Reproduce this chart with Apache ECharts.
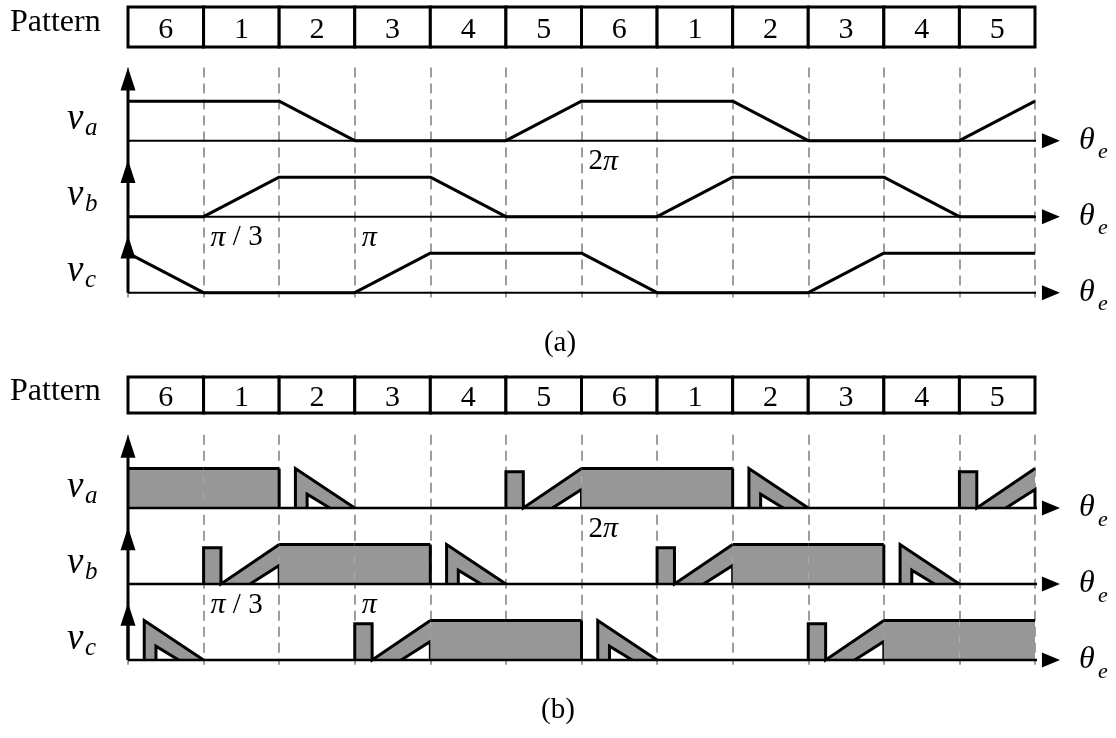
<!DOCTYPE html>
<html>
<head>
<meta charset="utf-8">
<script src="https://cdn.jsdelivr.net/npm/echarts@6/dist/echarts.min.js"></script>
<style>
  html, body { margin: 0; padding: 0; background: #fff; }
  #chart { width: 1116px; height: 738px; }
</style>
</head>
<body>
<div id="chart"></div>
<script>
// Commutation pattern sequence over two electrical cycles (each cell = pi/3)
const patterns = ['6', '1', '2', '3', '4', '5', '6', '1', '2', '3', '4', '5'];

// Trapezoidal back-EMF of each phase: breakpoints [theta_e in pi/3 units, normalized level]
const vaTrap = [[0, 1], [2, 1], [3, 0], [5, 0], [6, 1], [8, 1], [9, 0], [11, 0], [12, 1]];
const vbTrap = [[0, 0], [1, 0], [2, 1], [4, 1], [5, 0], [7, 0], [8, 1], [10, 1], [11, 0], [12, 0]];
const vcTrap = [[0, 1], [1, 0], [3, 0], [4, 1], [6, 1], [7, 0], [9, 0], [10, 1], [12, 1]];
const phaseSubs = ['a', 'b', 'c'];

// Angle annotations: [theta_e, phase index]
const angleMarkX = [6, 1, 3];
const angleMarkPhase = [0, 1, 1];
const angleMarkText = ['2π', 'π / 3', 'π'];

// PWM pulse shape inside one pattern interval (fractions of the interval / of the amplitude)
const risePulse = { width: 0.23, height: 0.92 };
const riseNotch = { start: 0.615, height: 0.47 };
const fallGap = 0.215;
const fallNotch = { start: 0.37, end: 0.67, height: 0.35 };

// ---- layout ----
const UNIT = 39.5;          // px per amplitude unit
const STEP = 1.924;         // spacing between phase baselines (amplitude units)
const Y_MIN = -0.12, Y_MAX = 5.7;
const X_LINE_END = 12.13, X_TIP = 12.33;
const offsets = [2 * STEP, STEP, 0];
const upTips = [5.7, 3.36, 1.45];
const SERIF = '"Liberation Serif", "Times New Roman", serif';
const GRAY = '#979797';

const traps = [vaTrap, vbTrap, vcTrap];

function trapLevel(trap, x) {
  for (let j = 0; j < trap.length - 1; j++) {
    const [x0, y0] = trap[j], [x1, y1] = trap[j + 1];
    if (x >= x0 && x <= x1) return x1 === x0 ? y0 : y0 + (y1 - y0) * (x - x0) / (x1 - x0);
  }
  return trap[trap.length - 1][1];
}

function segmentsOf(trap) {
  const out = [];
  for (let i = 0; i < patterns.length; i++) out.push([i, trapLevel(trap, i), trapLevel(trap, i + 1)]);
  return out;
}

const grids = [
  { left: 128, right: 81, top: 7, height: 40 },                                       // pattern row (a)
  { left: 128, right: 81, top: 292.7 - Y_MAX * UNIT, height: (Y_MAX - Y_MIN) * UNIT }, // waveforms (a)
  { left: 128, right: 81, top: 377, height: 36 },                                     // pattern row (b)
  { left: 128, right: 81, top: 660 - Y_MAX * UNIT, height: (Y_MAX - Y_MIN) * UNIT }   // waveforms (b)
];

const xAxes = grids.map((g, gi) => ({
  gridIndex: gi, type: 'value', min: 0, max: 12, interval: 1, show: true,
  axisLine: { show: false }, axisTick: { show: false }, axisLabel: { show: false },
  splitLine: gi % 2 === 1
    ? { show: true, lineStyle: { color: '#9e9e9e', width: 2, type: [10, 6] } }
    : { show: false }
}));
const yAxes = grids.map((g, gi) => ({
  gridIndex: gi, type: 'value', show: false,
  min: gi % 2 === 1 ? Y_MIN : 0, max: gi % 2 === 1 ? Y_MAX : 1
}));

const series = [];

// Pattern rows
[0, 2].forEach(gi => {
  series.push({
    type: 'custom', xAxisIndex: gi, yAxisIndex: gi, z: 3,
    data: patterns.map((p, i) => [i, 0]),
    encode: { x: 0, y: 1 },
    renderItem: (params, api) => {
      const i = api.value(0);
      const tl = api.coord([i, 1]), br = api.coord([i + 1, 0]);
      return {
        type: 'group', children: [
          { type: 'rect', shape: { x: tl[0], y: tl[1], width: br[0] - tl[0], height: br[1] - tl[1] },
            style: { fill: '#fff', stroke: '#000', lineWidth: 3 } },
          { type: 'text', x: (tl[0] + br[0]) / 2, y: (tl[1] + br[1]) / 2 + 3,
            style: { text: patterns[params.dataIndex], font: '30px ' + SERIF, fill: '#000',
                     align: 'center', verticalAlign: 'middle' } }
        ]
      };
    }
  });
});

// Common parts of both waveform panels
function panelCommon(gi, baseWidth) {
  // vertical axis
  series.push({
    type: 'line', xAxisIndex: gi, yAxisIndex: gi, z: 5, clip: false, silent: true,
    symbol: 'none', lineStyle: { color: '#000', width: 3 },
    data: [[0, 0], [0, Y_MAX - 0.3]]
  });
  // horizontal theta_e axes
  offsets.forEach(off => {
    series.push({
      type: 'line', xAxisIndex: gi, yAxisIndex: gi, z: 3, clip: false, silent: true,
      symbol: 'none', lineStyle: { color: '#000', width: baseWidth },
      data: [[0, off], [X_LINE_END, off]]
    });
  });
  // arrow heads
  const heads = [];
  upTips.forEach(t => heads.push([0, t, 0]));
  offsets.forEach(off => heads.push([X_TIP, off, 1]));
  series.push({
    type: 'custom', xAxisIndex: gi, yAxisIndex: gi, z: 6, silent: true,
    data: heads, encode: { x: 0, y: 1 },
    renderItem: (params, api) => {
      const p = api.coord([api.value(0), api.value(1)]);
      const pts = api.value(2) === 0
        ? [[p[0], p[1]], [p[0] - 7.5, p[1] + 23], [p[0] + 7.5, p[1] + 23]]
        : [[p[0], p[1]], [p[0] - 18, p[1] - 7.5], [p[0] - 18, p[1] + 7.5]];
      return { type: 'polygon', shape: { points: pts }, style: { fill: '#000' } };
    }
  });
  // phase names and theta_e labels
  series.push({
    type: 'custom', xAxisIndex: gi, yAxisIndex: gi, z: 6, silent: true,
    data: offsets.map(off => [0, off]), encode: { x: 0, y: 1 },
    renderItem: (params, api) => {
      const k = params.dataIndex;
      const b = api.coord([0, offsets[k]]);
      const t = api.coord([X_TIP, offsets[k]]);
      return {
        type: 'group', children: [
          { type: 'text', x: b[0] - 61, y: b[1] - 21,
            style: { text: 'v', font: 'italic 37px ' + SERIF, fill: '#000', align: 'left', verticalAlign: 'middle' } },
          { type: 'text', x: b[0] - 43, y: b[1] - 12,
            style: { text: phaseSubs[k], font: 'italic 25px ' + SERIF, fill: '#000', align: 'left', verticalAlign: 'middle' } },
          { type: 'text', x: t[0] + 19, y: t[1],
            style: { text: 'θ', font: 'italic 32px ' + SERIF, fill: '#000', align: 'left', verticalAlign: 'middle' } },
          { type: 'text', x: t[0] + 38, y: t[1] + 12,
            style: { text: 'e', font: 'italic 22px ' + SERIF, fill: '#000', align: 'left', verticalAlign: 'middle' } }
        ]
      };
    }
  });
  // angle annotations
  series.push({
    type: 'custom', xAxisIndex: gi, yAxisIndex: gi, z: 6, silent: true,
    data: angleMarkX.map((x, i) => [x, offsets[angleMarkPhase[i]]]), encode: { x: 0, y: 1 },
    renderItem: (params, api) => {
      const p = api.coord([api.value(0), api.value(1)]);
      const txt = angleMarkText[params.dataIndex];
      const parts = txt.split('π');
      const rich = '{n|' + parts[0] + '}{i|π}{n|' + parts[1] + '}';
      return {
        type: 'text', x: p[0] + 7, y: p[1] + 21,
        style: {
          text: rich, align: 'left', verticalAlign: 'middle', fill: '#000',
          rich: {
            n: { font: '29px ' + SERIF, fill: '#000' },
            i: { font: 'italic 30px ' + SERIF, fill: '#000' }
          }
        }
      };
    }
  });
}

// (a) trapezoidal phase voltages
panelCommon(1, 2);
traps.forEach((trap, k) => {
  series.push({
    type: 'line', xAxisIndex: 1, yAxisIndex: 1, z: 4, clip: false, silent: true,
    symbol: 'none', lineStyle: { color: '#000', width: 3 },
    data: trap.map(([x, y]) => [x, offsets[k] + y])
  });
});

// (b) PWM phase voltages
panelCommon(3, 2.5);
traps.forEach((trap, k) => {
  const off = offsets[k];
  series.push({
    type: 'custom', xAxisIndex: 3, yAxisIndex: 3, z: 2, silent: true,
    data: segmentsOf(trap), encode: { x: 0, y: 1 },
    renderItem: (params, api) => {
      const i = api.value(0), a = api.value(1), b = api.value(2);
      const P = (x, y) => api.coord([i + x, off + y]);
      const fill = { fill: GRAY };
      const white = { fill: '#fff' };
      const ln = { stroke: '#000', lineWidth: 3, fill: null, lineJoin: 'miter' };
      const kids = [];
      if (a === 1 && b === 1) {
        kids.push({ type: 'polygon', shape: { points: [P(0, 0), P(0, 1), P(1, 1), P(1, 0)] }, style: fill });
        kids.push({ type: 'polyline', shape: { points: [P(0, 1), P(1, 1)] }, style: ln });
      } else if (a === 0 && b === 1) {
        const w = risePulse.width, h = risePulse.height;
        const s = riseNotch.start, nh = riseNotch.height;
        kids.push({ type: 'polygon', shape: { points: [P(0, 0), P(0, h), P(w, h), P(w, 0)] }, style: fill });
        kids.push({ type: 'polygon', shape: { points: [P(w, 0), P(1, 1), P(1, 0)] }, style: fill });
        kids.push({ type: 'polygon', shape: { points: [P(s, 0), P(1, nh), P(1, 0)] }, style: white });
        kids.push({ type: 'polyline', shape: { points: [P(0, 0), P(0, h), P(w, h), P(w, 0), P(1, 1)] }, style: ln });
        kids.push({ type: 'polyline', shape: { points: [P(s, 0), P(1, nh), P(1, 0)] }, style: ln });
      } else if (a === 1 && b === 0) {
        const g = fallGap, s = fallNotch.start, e = fallNotch.end, nh = fallNotch.height;
        kids.push({ type: 'polygon', shape: { points: [P(g, 0), P(g, 1), P(1, 0)] }, style: fill });
        kids.push({ type: 'polygon', shape: { points: [P(s, 0), P(s, nh), P(e, 0)] }, style: white });
        kids.push({ type: 'polyline', shape: { points: [P(0, 1), P(0, 0)] }, style: ln });
        kids.push({ type: 'polyline', shape: { points: [P(g, 0), P(g, 1), P(1, 0)] }, style: ln });
        kids.push({ type: 'polyline', shape: { points: [P(s, 0), P(s, nh), P(e, 0)] }, style: ln });
      }
      return { type: 'group', children: kids };
    }
  });
});

const chart = echarts.init(document.getElementById('chart'), null, { renderer: 'canvas' });
chart.setOption({
  animation: false,
  backgroundColor: '#fff',
  grid: grids,
  xAxis: xAxes,
  yAxis: yAxes,
  series: series,
  graphic: [
    { type: 'text', left: 10, top: 7, style: { text: 'Pattern', font: '32px ' + SERIF, fill: '#000' } },
    { type: 'text', left: 10, top: 376, style: { text: 'Pattern', font: '32px ' + SERIF, fill: '#000' } },
    { type: 'text', x: 560, y: 343, style: { text: '(a)', font: '29px ' + SERIF, fill: '#000', align: 'center', verticalAlign: 'middle' } },
    { type: 'text', x: 558, y: 710, style: { text: '(b)', font: '29px ' + SERIF, fill: '#000', align: 'center', verticalAlign: 'middle' } }
  ]
});
</script>
</body>
</html>
